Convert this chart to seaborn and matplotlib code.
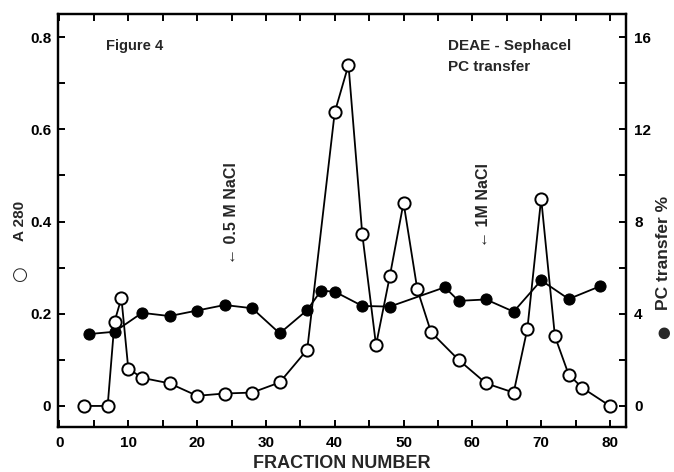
import numpy as np
import pandas as pd
import matplotlib
matplotlib.use("Agg")
import matplotlib.pyplot as plt
import seaborn as sns

# ---- data ----
a280_fraction = [3.5, 7, 8, 9, 10, 12, 16, 20, 24, 28, 32, 36, 40, 42, 44, 46,
                 48, 50, 52, 54, 58, 62, 66, 68, 70, 72, 74, 76, 80]
a280_value = [0.0, 0.0, 0.183, 0.234, 0.081, 0.061, 0.049, 0.022, 0.027, 0.029,
              0.051, 0.122, 0.637, 0.740, 0.373, 0.132, 0.281, 0.441, 0.253, 0.160,
              0.100, 0.049, 0.029, 0.168, 0.450, 0.151, 0.068, 0.039, 0.0]
pc_fraction = [4.3, 8, 12, 16, 20, 24, 28, 32, 36, 38, 40, 44, 48, 56, 58, 62,
               66, 70, 74, 78.6]
pc_value = [3.12, 3.22, 4.04, 3.90, 4.14, 4.38, 4.24, 3.15, 4.16, 5.00, 4.96,
            4.34, 4.31, 5.15, 4.56, 4.62, 4.09, 5.45, 4.64, 5.20]

x_ticks = [0, 10, 20, 30, 40, 50, 60, 70, 80]
x_tick_labels = ["0", "10", "20", "30", "40", "50", "60", "70", "80"]
left_ticks = [0, 0.2, 0.4, 0.6, 0.8]
left_tick_labels = ["0", "0.2", "0.4", "0.6", "0.8"]
right_ticks = [0, 4, 8, 12, 16]
right_tick_labels = ["0", "4", "8", "12", "16"]

a280_df = pd.DataFrame({"fraction": a280_fraction, "A280": a280_value})
pc_df = pd.DataFrame({"fraction": pc_fraction, "PC": pc_value})

sns.set_style("ticks")
FAM = ["Liberation Sans", "DejaVu Sans"]
plt.rcParams["font.family"] = FAM
plt.rcParams["font.weight"] = "bold"

fig = plt.figure(figsize=(6.74, 4.72), dpi=100)
ax = fig.add_axes([0.0865, 0.096, 0.842, 0.874])
ax2 = ax.twinx()

# filled circles: PC transfer (right axis)
sns.lineplot(data=pc_df, x="fraction", y="PC", ax=ax2, color="black",
             marker="o", markersize=8, markerfacecolor="black",
             markeredgecolor="black", linewidth=1.3, estimator=None, sort=False)

# open circles: A280 (left axis), drawn on top
sns.lineplot(data=a280_df, x="fraction", y="A280", ax=ax, color="black",
             marker="o", markersize=8.8, markerfacecolor="white",
             markeredgecolor="black", markeredgewidth=1.4, linewidth=1.3,
             estimator=None, sort=False)

ax.set_zorder(ax2.get_zorder() + 1)
ax.patch.set_visible(False)

ax.set_xlim(-0.17, 82.3)
ax.set_ylim(-0.045, 0.85)
ax2.set_ylim(-0.9, 17.0)

ax.set_xticks(x_ticks)
ax.set_xticklabels(x_tick_labels)
ax.set_xticks(np.arange(5, 85, 10), minor=True)
ax.set_yticks(left_ticks)
ax.set_yticklabels(left_tick_labels)
ax.set_yticks([0.1, 0.3, 0.5, 0.7], minor=True)
ax2.set_yticks(right_ticks)
ax2.set_yticklabels(right_tick_labels)
ax2.set_yticks([2, 6, 10, 14], minor=True)

ax.set_xlabel("")
ax.set_ylabel("")
ax2.set_ylabel("")

for a in (ax, ax2):
    for s in a.spines.values():
        s.set_linewidth(1.6)
        s.set_color("black")
    a.tick_params(which="both", direction="in", length=5, width=1.4,
                  colors="black", labelsize=11)

ax.tick_params(axis="x", which="both", top=True, bottom=True, pad=7)
ax.tick_params(axis="y", which="both", left=True, right=False, pad=5)
ax2.tick_params(axis="y", which="both", right=True, left=False, pad=6)
for lab in ax.get_xticklabels() + ax.get_yticklabels() + ax2.get_yticklabels():
    lab.set_fontweight("bold")

# annotations
ax.text(6.8, 0.78, "Figure 4", fontsize=10.5, fontweight="bold", family=FAM,
        ha="left", va="center")
ax.text(56.5, 0.78, "DEAE - Sephacel", fontsize=11, fontweight="bold",
        family=FAM, ha="left", va="center")
ax.text(56.5, 0.735, "PC transfer", fontsize=11, fontweight="bold",
        family=FAM, ha="left", va="center")
ax.text(25.0, 0.418, "\u2190 0.5 M NaCl", rotation=90, fontsize=11.5,
        fontweight="bold", family=FAM, ha="center", va="center")
ax.text(61.6, 0.436, "\u2190 1M NaCl", rotation=90, fontsize=11.5,
        fontweight="bold", family=FAM, ha="center", va="center")

# axis labels
fig.text(0.5075, 1 - 463 / 472, "FRACTION NUMBER", fontsize=13,
         fontweight="bold", family=FAM, ha="center", va="center")
fig.text(20 / 674, 1 - 221 / 472, "A 280", rotation=90, fontsize=11,
         fontweight="bold", family=FAM, ha="center", va="center")
fig.text(20 / 674, 1 - 274 / 472, "\u25cb", rotation=90, fontsize=13,
         fontweight="bold", family=["DejaVu Sans"], ha="center", va="center")
fig.text(664 / 674, 1 - 253 / 472, "PC transfer %", rotation=90, fontsize=12.5,
         fontweight="bold", family=FAM, ha="center", va="center")
fig.text(664 / 674, 1 - 332 / 472, "\u25cf", rotation=90, fontsize=11,
         family=["DejaVu Sans"], ha="center", va="center")

fig.savefig("out.png", dpi=100)
